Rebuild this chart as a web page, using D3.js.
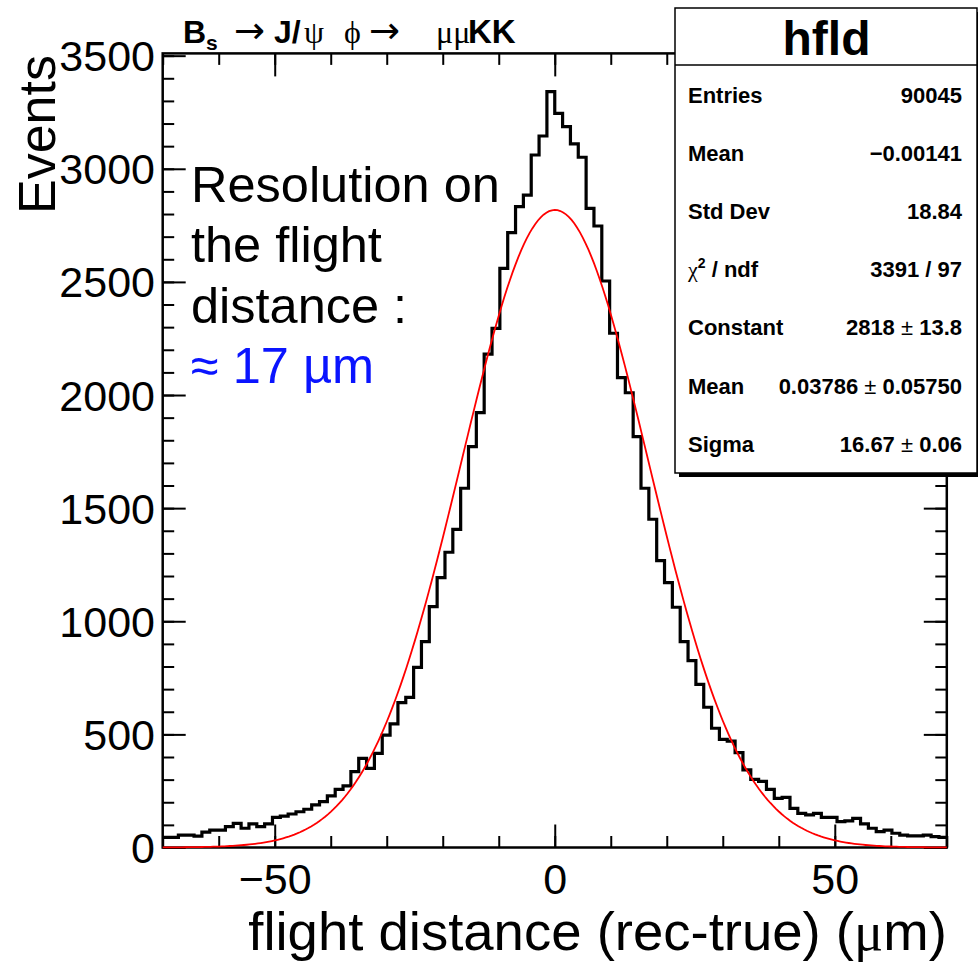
<!DOCTYPE html>
<html>
<head>
<meta charset="utf-8">
<script src="https://cdn.jsdelivr.net/npm/d3@7"></script>
<style>
  body { margin: 0; background: #fff; }
  svg { display: block; }
</style>
</head>
<body>
<div id="chart"></div>
<script>
// hfld : 100 bins between -70 and 70 um
var counts = [
    45, 45, 55, 55, 50, 68, 77, 77, 92, 107,
    85, 104, 92, 104, 133, 139, 148, 158, 169, 188,
    203, 228, 257, 272, 335, 394, 350, 416, 497, 546,
    640, 664, 796, 910, 1065, 1193, 1305, 1406, 1588, 1772,
    1922, 2181, 2295, 2560, 2718, 2833, 2884, 3061, 3145, 3341,
    3245, 3186, 3110, 3051, 2825, 2747, 2504, 2273, 2077, 2010,
    1816, 1588, 1451, 1268, 1171, 1062, 910, 826, 721, 620,
    527, 478, 470, 419, 343, 301, 292, 257, 217, 222,
    173, 151, 144, 151, 133, 133, 114, 118, 129, 104,
    85, 70, 77, 63, 55, 51, 51, 55, 48, 45
];
var xRange = [-70, 70];
var yMax = 3510;
var xTickLabels = [-50, 0, 50];
var yTickLabels = [0, 500, 1000, 1500, 2000, 2500, 3000, 3500];
// gaus fit : constant, mean, sigma
var fitParams = [2818, 0.03786, 16.67];
var statNames = ["Entries", "Mean", "Std Dev", "χ2 / ndf", "Constant", "Mean", "Sigma"];
var statValues = ["90045", "\u22120.00141", "18.84", "3391 / 97", "2818 ± 13.8", "0.03786 ± 0.05750", "16.67 ± 0.06"];
var noteLines = ["Resolution on", "the flight", "distance :"];
var noteResult = "\u2248 17 \u00b5m";

var SANS = "'Liberation Sans', Arial, Helvetica, sans-serif";
var SERIF = "'Liberation Serif', 'Times New Roman', serif";
var ARROW = "'DejaVu Sans', sans-serif";

var W = 978, H = 965;
var margin = {top: 53.4, left: 162.7, right: 31.2, bottom: 117.5};
var width = W - margin.left - margin.right,
    height = H - margin.top - margin.bottom;

var svg = d3.select("#chart").append("svg")
    .attr("width", W).attr("height", H)
    .style("font-family", SANS);

var g = svg.append("g")
    .attr("transform", "translate(" + margin.left + "," + margin.top + ")");

var x = d3.scaleLinear().domain(xRange).range([0, width]);
var y = d3.scaleLinear().domain([0, yMax]).range([height, 0]);

var minorX = d3.range(xRange[0], xRange[1] + 0.1, 10);
var minorY = d3.range(0, yMax, 100);
var fmt = d3.format("d");

function styleAxis(sel) {
    sel.attr("font-family", SANS).attr("font-size", 43);
    sel.select(".domain").remove();
    sel.selectAll("line").attr("stroke", "#000").attr("stroke-width", 2);
}

// minor ticks, all four sides
g.append("g").attr("transform", "translate(0," + height + ")")
    .call(d3.axisBottom(x).tickValues(minorX).tickSize(-11.5).tickFormat(""))
    .call(styleAxis);
g.append("g")
    .call(d3.axisTop(x).tickValues(minorX).tickSize(-11.5).tickFormat(""))
    .call(styleAxis);
g.append("g")
    .call(d3.axisLeft(y).tickValues(minorY).tickSize(-11.5).tickFormat(""))
    .call(styleAxis);
g.append("g").attr("transform", "translate(" + width + ",0)")
    .call(d3.axisRight(y).tickValues(minorY).tickSize(-11.5).tickFormat(""))
    .call(styleAxis);

// major ticks + labels
g.append("g").attr("transform", "translate(0," + height + ")")
    .call(d3.axisBottom(x).tickValues(xTickLabels).tickSize(-23).tickPadding(15.5).tickFormat(d3.format("d")))
    .call(styleAxis);
g.append("g")
    .call(d3.axisTop(x).tickValues(xTickLabels).tickSize(-23).tickFormat(""))
    .call(styleAxis);
g.append("g")
    .call(d3.axisLeft(y).tickValues(yTickLabels).tickSize(-23).tickPadding(7.7).tickFormat(fmt))
    .call(styleAxis)
    .selectAll("text").attr("dy", "0.35em");
g.append("g").attr("transform", "translate(" + width + ",0)")
    .call(d3.axisRight(y).tickValues(yTickLabels).tickSize(-23).tickFormat(""))
    .call(styleAxis);

// frame
g.append("rect")
    .attr("width", width).attr("height", height)
    .attr("fill", "none").attr("stroke", "#000").attr("stroke-width", 2.5);

// histogram outline
var binWidth = (xRange[1] - xRange[0]) / counts.length;
var steps = counts.map(function(c, i) { return [xRange[0] + i * binWidth, c]; });
steps.push([xRange[1], counts[counts.length - 1]]);

var histLine = d3.line()
    .x(function(d) { return x(d[0]); })
    .y(function(d) { return y(d[1]); })
    .curve(d3.curveStepAfter);

g.append("path").datum(steps)
    .attr("d", histLine)
    .attr("fill", "none").attr("stroke", "#000")
    .attr("stroke-width", 3.2).attr("stroke-linejoin", "miter");

// gaussian fit from the fitted parameters
var fitPts = d3.range(xRange[0], xRange[1] + 0.01, 0.5).map(function(v) {
    var t = (v - fitParams[1]) / fitParams[2];
    return [v, fitParams[0] * Math.exp(-0.5 * t * t)];
});
g.append("path").datum(fitPts)
    .attr("d", d3.line().x(function(d) { return x(d[0]); }).y(function(d) { return y(d[1]); }))
    .attr("fill", "none").attr("stroke", "#ff0000").attr("stroke-width", 1.8);

// title
var title = svg.append("text").attr("x", 183).attr("y", 43)
    .attr("font-size", 32).attr("font-weight", "bold");
title.append("tspan").text("B");
title.append("tspan").attr("font-size", 21).attr("dy", 7).text("s");
title.append("tspan").attr("x", 234).attr("dy", -7).attr("font-family", ARROW).attr("font-weight", "normal").attr("font-size", 37).text("\u2192");
title.append("tspan").attr("x", 274).text("J/");
title.append("tspan").attr("x", 304).attr("font-family", SERIF).attr("font-weight", "normal").text("\u03c8");
title.append("tspan").attr("x", 344).attr("font-family", SERIF).attr("font-weight", "normal").text("\u03d5");
title.append("tspan").attr("x", 369).attr("font-family", ARROW).attr("font-weight", "normal").attr("font-size", 37).text("\u2192");
title.append("tspan").attr("x", 436).attr("font-family", SERIF).attr("font-weight", "normal").text("\u03bc\u03bc");
title.append("tspan").attr("x", 468).attr("font-size", 33).text("KK");

// axis titles
svg.append("text")
    .attr("transform", "translate(55,55) rotate(-90)")
    .attr("text-anchor", "end").attr("font-size", 52)
    .text("Events");

var xt = svg.append("text").attr("x", 946.8).attr("y", 950)
    .attr("text-anchor", "end").attr("font-size", 54.5);
xt.append("tspan").text("flight distance (rec-true) (");
xt.append("tspan").attr("font-family", SERIF).text("\u03bc");
xt.append("tspan").text("m)");

// annotation
noteLines.forEach(function(s, i) {
    svg.append("text").attr("x", 191).attr("y", 201.7 + i * 60.5)
        .attr("font-size", 50.5).text(s);
});
svg.append("text").attr("x", 191).attr("y", 201.7 + 3 * 60.5)
    .attr("font-size", 50.5).attr("fill", "#0a14ff").text(noteResult);

// stats box
var box = {x: 675, y: 8, w: 302, h: 465};
svg.append("rect").attr("x", box.x + 4).attr("y", box.y + 4)
    .attr("width", box.w).attr("height", box.h).attr("fill", "#000");
svg.append("rect").attr("x", box.x).attr("y", box.y)
    .attr("width", box.w).attr("height", box.h)
    .attr("fill", "#fff").attr("stroke", "#000").attr("stroke-width", 1.5);
svg.append("line").attr("x1", box.x).attr("x2", box.x + box.w)
    .attr("y1", 65).attr("y2", 65).attr("stroke", "#000").attr("stroke-width", 1.5);
svg.append("text").attr("x", 826.5).attr("y", 55)
    .attr("text-anchor", "middle").attr("font-size", 48).attr("font-weight", "bold")
    .text("hfld");

statNames.forEach(function(name, i) {
    var yy = 103 + i * 58.1;
    var lab = svg.append("text").attr("x", 688).attr("y", yy)
        .attr("font-size", 22).attr("font-weight", "bold");
    if (name.indexOf("χ") === 0) {
        lab.append("tspan").attr("font-family", SERIF).attr("font-weight", "normal").text("\u03c7");
        lab.append("tspan").attr("font-size", 14).attr("dy", -9).text("2");
        lab.append("tspan").attr("dy", 9).text(" / ndf");
    } else {
        lab.text(name);
    }
    var val = svg.append("text").attr("x", 962).attr("y", yy)
        .attr("text-anchor", "end").attr("font-size", 22).attr("font-weight", "bold");
    var parts = statValues[i].split(" ± ");
    val.append("tspan").text(parts[0]);
    if (parts.length > 1) {
        val.append("tspan").attr("font-weight", "normal").text(" \u00b1 ");
        val.append("tspan").text(parts[1]);
    }
});
</script>
</body>
</html>
